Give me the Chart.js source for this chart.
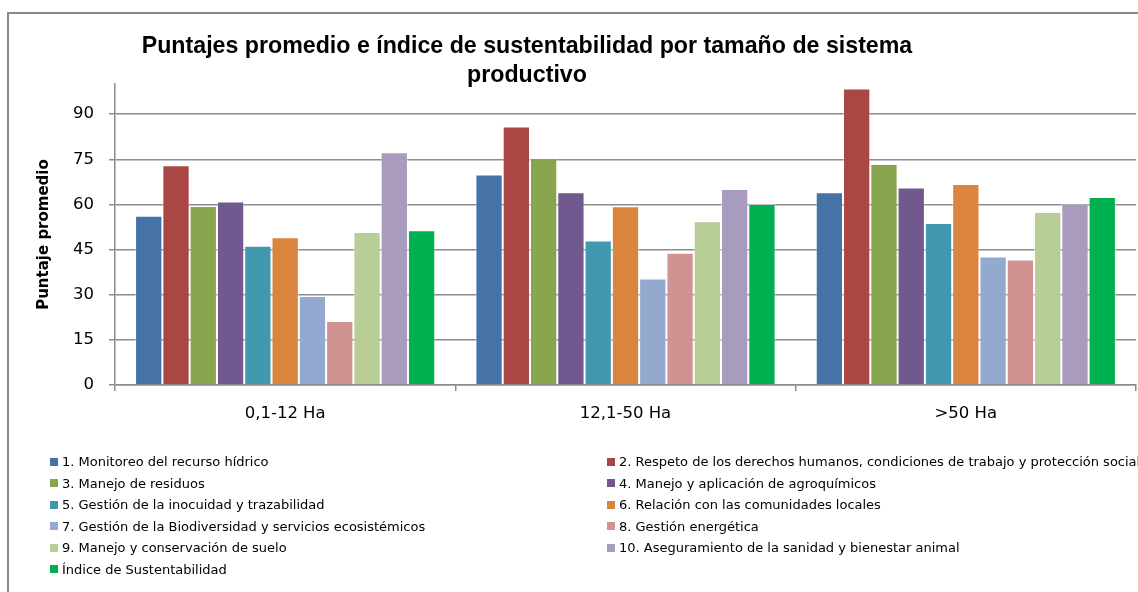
<!DOCTYPE html>
<html>
<head>
<meta charset="utf-8">
<script src="https://cdn.jsdelivr.net/npm/chart.js@4.4.1/dist/chart.umd.min.js"></script>
<style>
    html, body { margin: 0; padding: 0; background: #fff; }
    #wrap { position: relative; width: 1138px; height: 592px; overflow: hidden; }
    #frame { position: absolute; left: 7px; top: 12px; width: 1200px; height: 700px;
             border-left: 2px solid #878787; border-top: 2px solid #878787; }
    #grafico { position: absolute; left: 0; top: 0; }
    #legend { position: absolute; left: 50px; top: 451px; display: grid;
              grid-template-columns: 557px auto; grid-auto-rows: 21.5px;
              font-family: "DejaVu Sans", sans-serif; font-size: 13px; color: #000; }
    #legend .item { display: flex; align-items: center; white-space: nowrap; }
    #legend .box { width: 8px; height: 8px; margin-right: 4px; flex: none; }
</style>
</head>
<body>
<div id="wrap">
    <div id="frame"></div>
    <canvas id="grafico" width="1138" height="592"></canvas>
    <div id="legend"></div>
</div>
<script>
var categorias = ["0,1-12 Ha", "12,1-50 Ha", ">50 Ha"];

var monitoreoHidrico = [56.2, 69.9, 64.0];
var derechosHumanos = [73.0, 85.9, 98.5];
var manejoResiduos = [59.5, 75.3, 73.4];
var agroquimicos = [61.0, 64.0, 65.6];
var inocuidad = [46.3, 48.0, 53.8];
var comunidades = [49.1, 59.4, 66.8];
var biodiversidad = [29.6, 35.4, 42.7];
var energetica = [21.3, 43.9, 41.7];
var suelo = [50.8, 54.4, 57.5];
var sanidadAnimal = [77.3, 65.1, 60.2];
var indiceSustentabilidad = [51.4, 60.1, 62.5];

var yTicks = [0, 15, 30, 45, 60, 75, 90];

var series = [
    { label: "1. Monitoreo del recurso hídrico", data: monitoreoHidrico, color: "#4572A7" },
    { label: "2. Respeto de los derechos humanos, condiciones de trabajo y protección social", data: derechosHumanos, color: "#AA4643" },
    { label: "3. Manejo de residuos", data: manejoResiduos, color: "#89A54E" },
    { label: "4. Manejo y aplicación de agroquímicos", data: agroquimicos, color: "#71588F" },
    { label: "5. Gestión de la inocuidad y trazabilidad", data: inocuidad, color: "#4198AF" },
    { label: "6. Relación con las comunidades locales", data: comunidades, color: "#DB843D" },
    { label: "7. Gestión de la Biodiversidad y servicios ecosistémicos", data: biodiversidad, color: "#93A9CF" },
    { label: "8. Gestión energética", data: energetica, color: "#D19392" },
    { label: "9. Manejo y conservación de suelo", data: suelo, color: "#B9CD96" },
    { label: "10. Aseguramiento de la sanidad y bienestar animal", data: sanidadAnimal, color: "#A99BBD" },
    { label: "Índice de Sustentabilidad", data: indiceSustentabilidad, color: "#00B050" }
];

var gris = "#8c8c8c";

// titulo centrado sobre el area del grafico original
var tituloPlugin = {
    id: "tituloPlugin",
    afterDraw: function (chart) {
        var ctx = chart.ctx;
        ctx.save();
        ctx.fillStyle = "#000";
        ctx.font = "bold 23.2px 'Liberation Sans', Arial, sans-serif";
        ctx.textAlign = "center";
        ctx.textBaseline = "alphabetic";
        ctx.fillText("Puntajes promedio e índice de sustentabilidad por tamaño de sistema", 527, 53);
        ctx.fillText("productivo", 527, 82);
        ctx.restore();
    }
};

var ctx = document.getElementById("grafico").getContext("2d");
var grafico = new Chart(ctx, {
    type: "bar",
    data: {
        labels: categorias,
        datasets: series.map(s => ({
            label: s.label,
            data: s.data,
            backgroundColor: s.color,
            borderColor: "rgba(255,255,255,0.45)",
            borderWidth: 1,
            categoryPercentage: 0.882,
            barPercentage: 1
        }))
    },
    options: {
        responsive: false,
        animation: false,
        layout: { padding: { left: 0, right: 2, top: 84, bottom: 167 } },
        plugins: {
            legend: { display: false },
            tooltip: { enabled: false }
        },
        scales: {
            x: {
                afterFit: function (scale) { scale.height = 40; },
                grid: { drawOnChartArea: false, tickLength: 6, color: gris, lineWidth: 1.5 },
                border: { display: true, color: gris, width: 1.5 },
                ticks: { color: "#000", padding: 13, font: { family: "DejaVu Sans", size: 16.5 } }
            },
            y: {
                min: 0,
                max: 100,
                afterFit: function (scale) { scale.width = 115; },
                afterBuildTicks: function (scale) { scale.ticks = yTicks.map(v => ({ value: v })); },
                grid: { color: gris, lineWidth: 1.5, tickLength: 6 },
                border: { display: true, color: gris, width: 1.5 },
                ticks: { color: "#000", padding: 15, font: { family: "DejaVu Sans", size: 16.5 } },
                title: {
                    display: true,
                    text: "Puntaje promedio",
                    color: "#000",
                    padding: { top: 35, bottom: 0 },
                    font: { family: "DejaVu Sans", size: 15, weight: "bold" }
                }
            }
        }
    },
    plugins: [tituloPlugin]
});

// leyenda en dos columnas
var legend = document.getElementById("legend");
grafico.data.datasets.forEach(function (ds) {
    var item = document.createElement("div");
    item.className = "item";
    var box = document.createElement("span");
    box.className = "box";
    box.style.background = ds.backgroundColor;
    item.appendChild(box);
    item.appendChild(document.createTextNode(ds.label));
    legend.appendChild(item);
});
</script>
</body>
</html>
